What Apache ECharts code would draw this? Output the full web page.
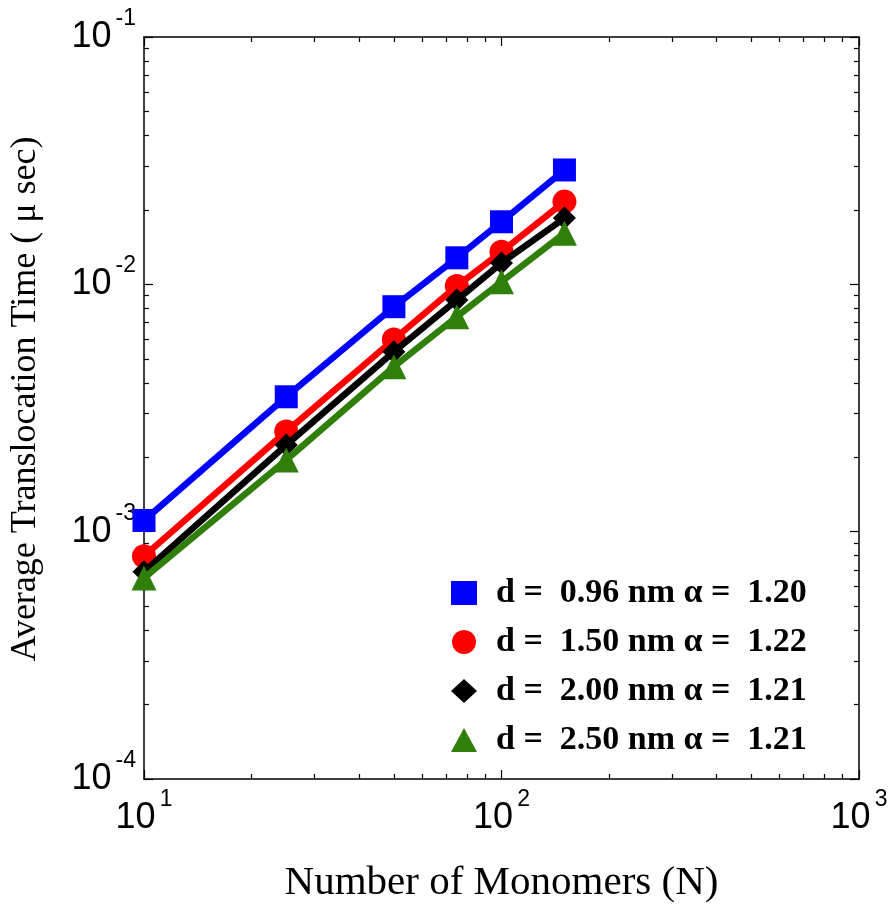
<!DOCTYPE html>
<html>
<head>
<meta charset="utf-8">
<script src="https://cdn.jsdelivr.net/npm/echarts@6/dist/echarts.min.js"></script>
<style>
html,body{margin:0;padding:0;background:#fff;}
#c{width:891px;height:907px;}
</style>
</head>
<body>
<div id="c"></div>
<script>
// ---- data ----
const monomers = [10, 25, 50, 75, 100, 150];
const time_d096 = [1.11e-3, 3.51e-3, 8.12e-3, 0.0128, 0.0179, 0.0290];
const time_d150 = [7.96e-4, 2.54e-3, 5.99e-3, 9.84e-3, 0.01354, 0.0216];
const time_d200 = [6.89e-4, 2.24e-3, 5.34e-3, 8.64e-3, 0.0122, 0.01854];
const time_d250 = [6.49e-4, 1.95e-3, 4.64e-3, 7.40e-3, 0.01024, 0.0161];
const seriesNames = [
  'd =  0.96 nm \u03b1 =  1.20',
  'd =  1.50 nm \u03b1 =  1.22',
  'd =  2.00 nm \u03b1 =  1.21',
  'd =  2.50 nm \u03b1 =  1.21'
];
const xMajorTicks = [10, 100, 1000];
const yMajorTicks = [1e-4, 1e-3, 1e-2, 1e-1];
const xMinorTicks = [20,30,40,50,60,70,80,90,200,300,400,500,600,700,800,900];
const yMinorTicks = [];
[1e-4, 1e-3, 1e-2].forEach(d => { for (let k = 2; k <= 9; k++) yMinorTicks.push(+(d * k).toPrecision(3)); });

const colors = ['#0000ff', '#ff0000', '#000000', '#2f7f0a'];
const symbols = ['rect', 'circle', 'diamond', 'triangle'];
const symbolSizes = [23, 24, 23, 25];
const allData = [time_d096, time_d150, time_d200, time_d250];

function expLabel(v) {
  const e = Math.round(Math.log10(v));
  return '{b|10}{s|' + e + '}';
}
const rich = {
  b: { fontSize: 36, fontFamily: 'Liberation Sans', color: '#000', lineHeight: 60 },
  s: { fontSize: 23, fontFamily: 'Liberation Sans', color: '#000', verticalAlign: 'top', lineHeight: 20, padding: [0, 0, 0, 4] }
};

function axisPair(isX, pos, minor) {
  return {
    type: 'log', logBase: 10,
    min: isX ? 10 : 1e-4, max: isX ? 1000 : 1e-1,
    position: pos,
    gridIndex: 0,
    splitLine: { show: false },
    axisLine: { show: !minor, lineStyle: { color: '#000', width: 1.5 } },
    axisTick: {
      show: true, inside: true, length: minor ? 5 : 9,
      lineStyle: { color: '#000', width: 1.2 },
      customValues: minor ? (isX ? xMinorTicks : yMinorTicks) : (isX ? xMajorTicks : yMajorTicks)
    },
    axisLabel: { show: false },
    minorTick: { show: false }
  };
}

const xMain = axisPair(true, 'bottom', false);
xMain.axisLabel = { show: true, margin: 9, formatter: expLabel, rich: rich, customValues: xMajorTicks };
xMain.name = 'Number of Monomers (N)';
xMain.nameLocation = 'middle';
xMain.nameGap = 84;
xMain.nameTextStyle = { fontFamily: 'Liberation Serif', fontSize: 41, color: '#000' };

const yMain = axisPair(false, 'left', false);
yMain.axisLabel = { show: true, margin: 8, formatter: expLabel, rich: rich, customValues: yMajorTicks };
yMain.name = 'Average Translocation Time ( \u03bc sec)';
yMain.nameLocation = 'middle';
yMain.nameGap = 100;
yMain.nameTextStyle = { fontFamily: 'Liberation Serif', fontSize: 36, color: '#000', padding: [0, 0, 0, 18] };

const option = {
  backgroundColor: '#fff',
  animation: false,
  grid: { left: 144, top: 37, right: 32, bottom: 128, containLabel: false, outerBoundsMode: 'none' },
  xAxis: [xMain, axisPair(true, 'top', false), axisPair(true, 'bottom', true), axisPair(true, 'top', true)],
  yAxis: [yMain, axisPair(false, 'right', false), axisPair(false, 'left', true), axisPair(false, 'right', true)],
  legend: {
    orient: 'vertical',
    left: 446, top: 571,
    itemWidth: 26, itemHeight: 24,
    itemGap: 15,
    textStyle: { fontFamily: 'Liberation Serif', fontWeight: 'bold', fontSize: 34, color: '#000', padding: [0, 0, 0, 14] },
    data: seriesNames.map((n, i) => ({ name: n, icon: symbols[i], itemStyle: { color: colors[i] } })),
    itemStyle: { borderWidth: 0 },
    lineStyle: { width: 0, opacity: 0 }
  },
  series: seriesNames.map((n, i) => ({
    name: n,
    type: 'line',
    xAxisIndex: 0, yAxisIndex: 0,
    data: monomers.map((x, j) => [x, allData[i][j]]),
    symbol: symbols[i],
    symbolSize: symbolSizes[i],
    showAllSymbol: true,
    lineStyle: { color: colors[i], width: 6.5 },
    itemStyle: { color: colors[i], borderWidth: 0 },
    z: 2 + i
  }))
};

const chart = echarts.init(document.getElementById('c'), null, { renderer: 'canvas' });
chart.setOption(option);
</script>
</body>
</html>
